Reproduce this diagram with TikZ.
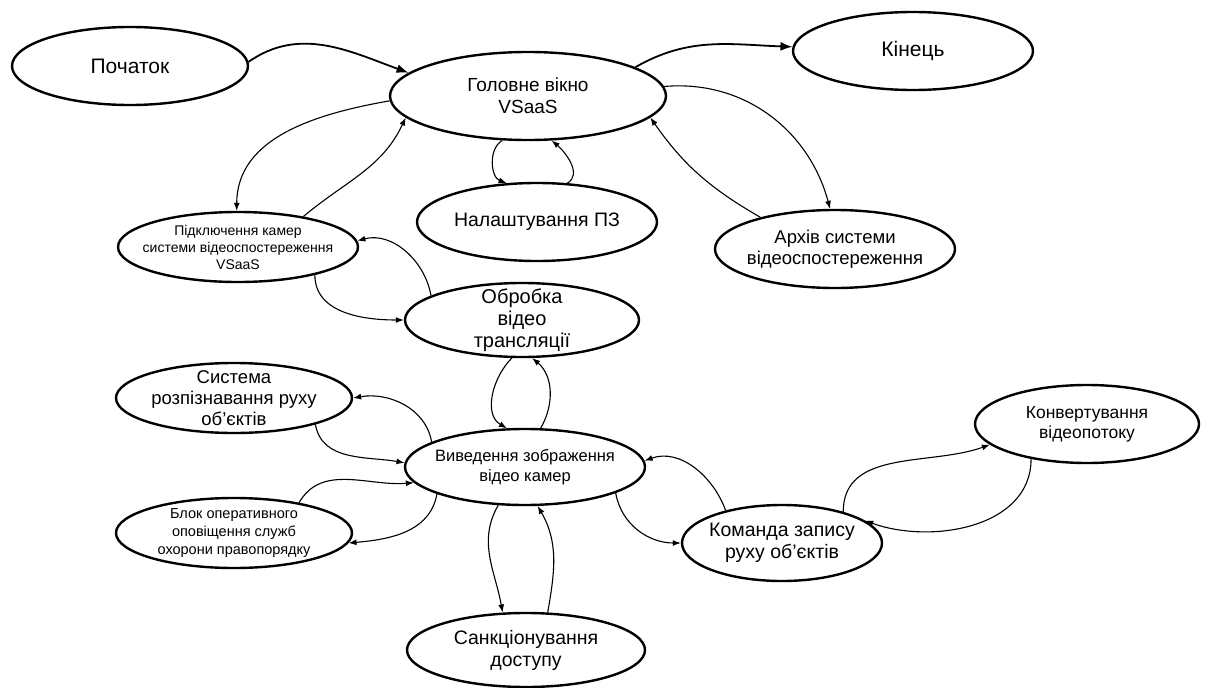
\documentclass[tikz,border=0pt]{standalone}
\usepackage{fontspec}
\setmainfont{Liberation Sans}
\usetikzlibrary{shapes.geometric,arrows.meta}

\begin{document}
\begin{tikzpicture}[x=1pt, y=1pt,
  state/.style={ellipse, draw, line width=2.4pt, inner sep=-40pt, align=center},
  conn/.style={-{Latex[length=8pt,width=6pt]}, line width=1.1pt},
  bigconn/.style={-{Latex[length=12pt,width=9pt]}, line width=1.8pt}]
\useasboundingbox (0,0) rectangle (1208,-688);
  % States
  \node[state, minimum width=236, minimum height=78, font=\fontsize{21}{24}\selectfont] (start) at (130,-66) {Початок};
  \node[state, minimum width=276, minimum height=88, font=\fontsize{19}{22}\selectfont] (main) at (528,-96) {Головне вікно\\VSaaS};
  \node[state, minimum width=240, minimum height=78, font=\fontsize{21}{24}\selectfont] (finish) at (913,-51) {Кінець};
  \node[state, minimum width=240, minimum height=78, font=\fontsize{19.5}{22}\selectfont] (setup) at (537,-222) {Налаштування ПЗ};
  \node[state, minimum width=240, minimum height=70, font=\fontsize{14}{17}\selectfont] (connect) at (238,-247) {Підключення камер\\системи відеоспостереження\\VSaaS};
  \node[state, minimum width=240, minimum height=78, font=\fontsize{18.5}{21}\selectfont] (archive) at (835,-249) {Архів системи\\відеоспостереження};
  \node[state, minimum width=234, minimum height=74, font=\fontsize{20}{22}\selectfont] (proc) at (522,-320) {Обробка\\відео\\трансляції};
  \node[state, minimum width=236, minimum height=70, font=\fontsize{18.5}{21}\selectfont] (detect) at (234,-398) {Система\\розпізнавання руху\\об'єктів};
  \node[state, minimum width=240, minimum height=76, font=\fontsize{16.5}{20}\selectfont] (display) at (525,-467) {Виведення зображення\\відео камер};
  \node[state, minimum width=236, minimum height=70, font=\fontsize{14.5}{18}\selectfont] (alert) at (234,-533) {Блок оперативного\\оповіщення служб\\охорони правопорядку};
  \node[state, minimum width=200, minimum height=76, font=\fontsize{19.5}{22}\selectfont] (record) at (782,-543) {Команда запису\\руху об'єктів};
  \node[state, minimum width=224, minimum height=78, font=\fontsize{17.5}{20}\selectfont] (convert) at (1087,-424) {Конвертування\\відеопотоку};
  \node[state, minimum width=238, minimum height=74, font=\fontsize{19.5}{22}\selectfont] (access) at (526,-650) {Санкціонування\\доступу};
  % Transitions
  \draw[bigconn] (start.2) to[out=35,in=160] (main.169);
  \draw[bigconn] (main.15) to[out=30,in=178] (finish.178);
  \draw[conn] (main.182) to[out=190,in=90] (connect.92);
  \draw[conn] (connect.25) to[out=40,in=245] (main.190);
  \draw[conn] (main.240) to[out=210,in=160] (setup.128);
  \draw[conn] (setup.52) to[out=30,in=-40] (main.298);
  \draw[conn] (main.4) to[out=5,in=105] (archive.97);
  \draw[conn] (archive.157) to[out=150,in=-55] (main.-10);
  \draw[conn] (proc.165) to[out=100,in=15] (connect.3);
  \draw[conn] (connect.-20) to[out=-90,in=180] (proc.180);
  \draw[conn] (proc.255) to[out=225,in=150] (display.115);
  \draw[conn] (display.68) to[out=60,in=-40] (proc.285);
  \draw[conn] (display.165) to[out=100,in=10] (detect.0);
  \draw[conn] (detect.-18) to[out=-80,in=170] (display.178);
  \draw[conn] (alert.25) to[out=60,in=185] (display.188);
  \draw[conn] (display.197) to[out=-100,in=5] (alert.-5);
  \draw[conn] (display.235) to[out=240,in=100] (access.122);
  \draw[conn] (access.60) to[out=80,in=-60] (display.-72);
  \draw[conn] (record.150) to[out=110,in=20] (display.3);
  \draw[conn] (display.-16) to[out=-80,in=180] (record.180);
  \draw[conn] (record.27) to[out=90,in=200] (convert.192);
  \draw[conn] (convert.212) to[out=-90,in=-20] (record.15);
\end{tikzpicture}
\end{document}
